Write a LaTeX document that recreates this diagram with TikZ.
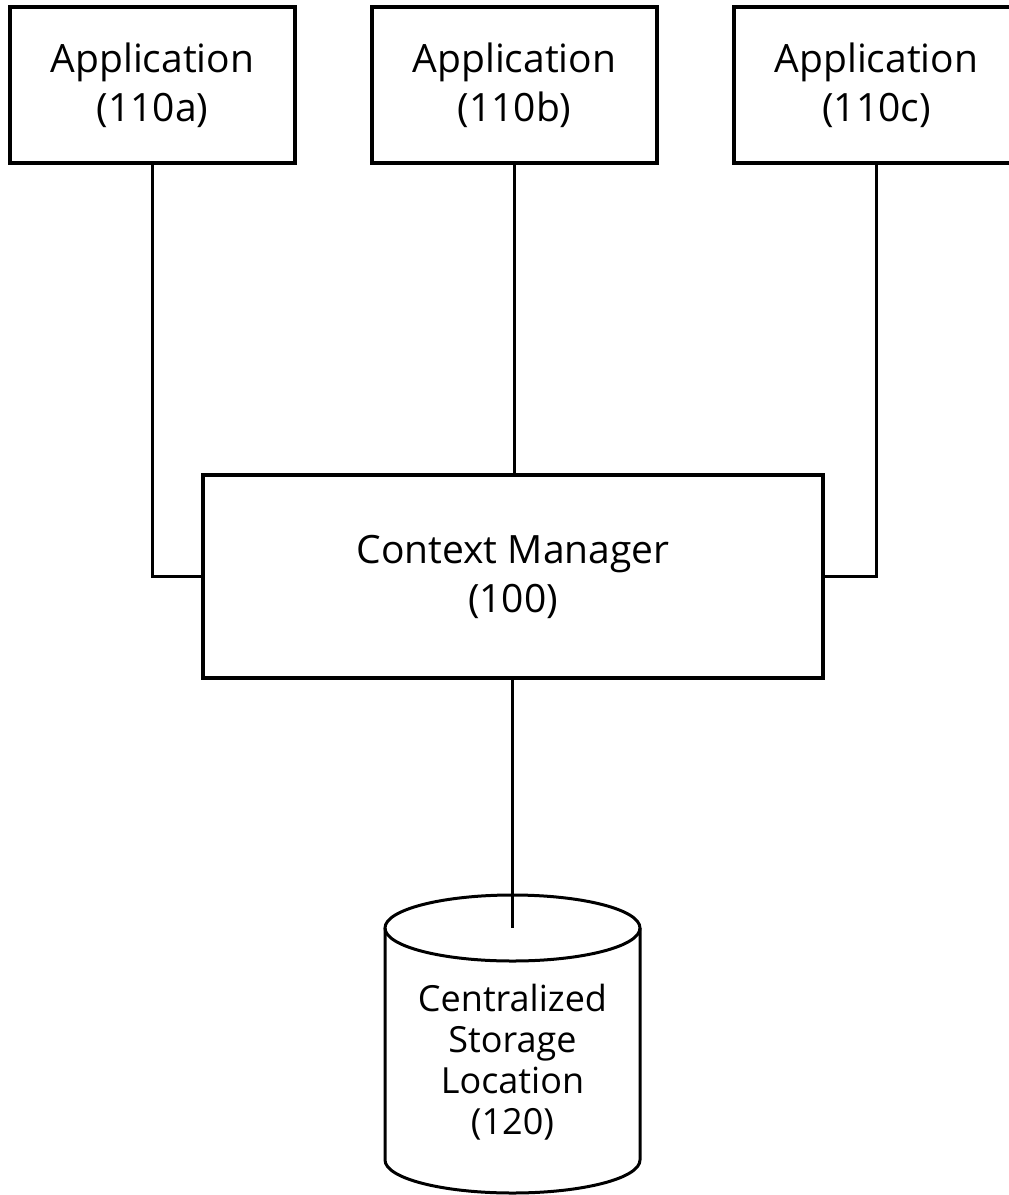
\documentclass[tikz,border=0pt]{standalone}
\usepackage{fontspec}
\setmainfont{Open Sans}
\usetikzlibrary{positioning}

\tikzset{
  appbox/.style={draw, line width=1.8pt, minimum width=142.5pt, minimum height=78pt,
    align=center, font=\fontsize{19.5}{24.5}\selectfont},
  wire/.style={line width=1.2pt}
}

\begin{document}
\begin{tikzpicture}[x=0.5pt, y=-0.5pt, node distance=36.7pt]
        \useasboundingbox (0,0) rectangle (1008,1195);
        % Applications on top
        \node[appbox] (appA) at (152.5,85) {Application\\(110a)};
        \node[appbox, right=of appA] (appB) {Application\\(110b)};
        \node[appbox, right=of appB] (appC) {Application\\(110c)};
        % Context manager in the middle
        \node[appbox, minimum width=310pt, minimum height=101.5pt, below=154.2pt of appB, xshift=-0.75pt] (cm) {Context Manager\\(100)};
        % Storage cylinder
        \coordinate (stTop) at (512.5,928);
        \draw[line width=1.5pt] (385,928) -- (385,1160)
          arc[start angle=180, end angle=360, x radius=63.75pt, y radius=16.5pt]
          -- (640,928);
        \draw[line width=1.5pt] (stTop) ellipse[x radius=63.75pt, y radius=16.5pt];
        \node[align=center, font=\fontsize{18}{20.5}\selectfont] (store) at (512.5,1062) {Centralized\\Storage\\Location\\(120)};
        % Connectors
        \draw[wire] (appA.south) |- (cm.west);
        \draw[wire] (appC.south) |- (cm.east);
        \draw[wire] (appB.south) -- (appB.south |- cm.north);
        \draw[wire] (stTop |- cm.south) -- (stTop);
\end{tikzpicture}
\end{document}
